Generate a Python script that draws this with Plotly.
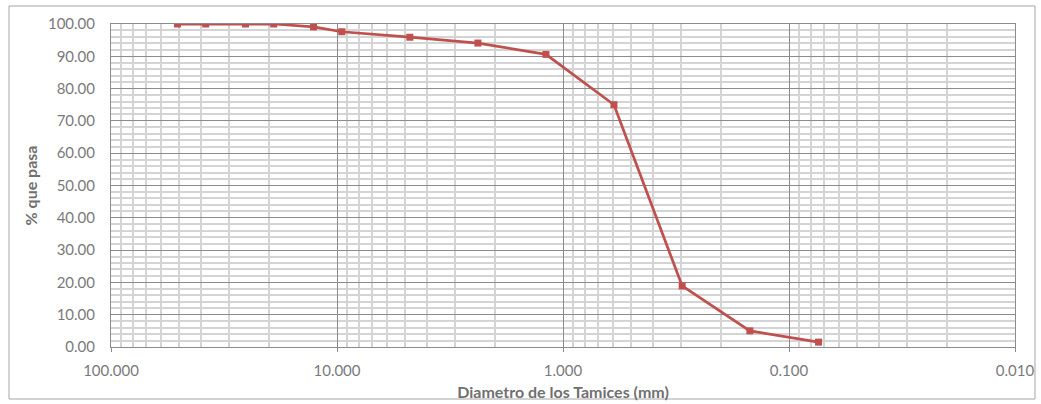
import plotly.graph_objects as go

diametros = [50.8, 38.1, 25.4, 19.05, 12.7, 9.525, 4.76, 2.38, 1.19, 0.595, 0.297, 0.149, 0.074]
pasa = [100.0, 100.0, 100.0, 100.0, 99.1, 97.6, 95.9, 94.1, 90.6, 75.0, 18.9, 5.0, 1.5]

font_fam = "Lato, Open Sans, sans-serif"
gray = "#7a7a7a"

fig = go.Figure()
fig.add_trace(go.Scatter(
    x=diametros, y=pasa, mode="lines+markers",
    line=dict(color="#C0504D", width=2.75),
    marker=dict(symbol="square", size=7, color="#C0504D"),
    showlegend=False,
))

fig.update_layout(
    width=1041, height=404,
    margin=dict(l=111, r=26, t=24, b=57, autoexpand=False),
    paper_bgcolor="white", plot_bgcolor="white",
    font=dict(family=font_fam, color=gray, size=15),
    xaxis=dict(
        type="log", range=[2, -2], dtick=1, tickformat=".3f",
        showgrid=True, gridcolor="#8c8c8c", gridwidth=1,
        minor=dict(dtick="D1", showgrid=True, gridcolor="#d4d4d4", gridwidth=1.5),
        ticks="outside", ticklen=4, tickcolor="#8c8c8c",
        showline=True, linecolor="#8c8c8c", linewidth=1, mirror=True,
        zeroline=False, automargin=False, ticklabelstandoff=6,
        title=dict(text="<b>Diametro de los Tamices (mm)</b>", font=dict(size=16, color="#707070"), standoff=8),
        tickfont=dict(size=15, color=gray),
    ),
    yaxis=dict(
        range=[0, 100], dtick=10, tickformat=".2f",
        showgrid=True, gridcolor="#8c8c8c", gridwidth=1,
        minor=dict(dtick=2, showgrid=True, gridcolor="#d4d4d4", gridwidth=1.5),
        showline=True, linecolor="#8c8c8c", linewidth=1, mirror=True,
        zeroline=False, ticks="", automargin=False, ticklabelstandoff=12,
        title=dict(text="<b>% que pasa</b>", font=dict(size=16, color="#707070"), standoff=6),
        tickfont=dict(size=15, color=gray),
    ),
    shapes=[dict(
        type="rect", xref="paper", yref="paper",
        x0=(9 - 111) / 904, x1=(1035 - 111) / 904,
        y0=-(399 - 347) / 323, y1=1 + (24 - 6) / 323,
        line=dict(color="#a6a6a6", width=1), fillcolor="rgba(0,0,0,0)", layer="below",
    )],
)

fig.write_html("out.html", config={"displayModeBar": False},
               post_script="document.body.style.margin='0';")
